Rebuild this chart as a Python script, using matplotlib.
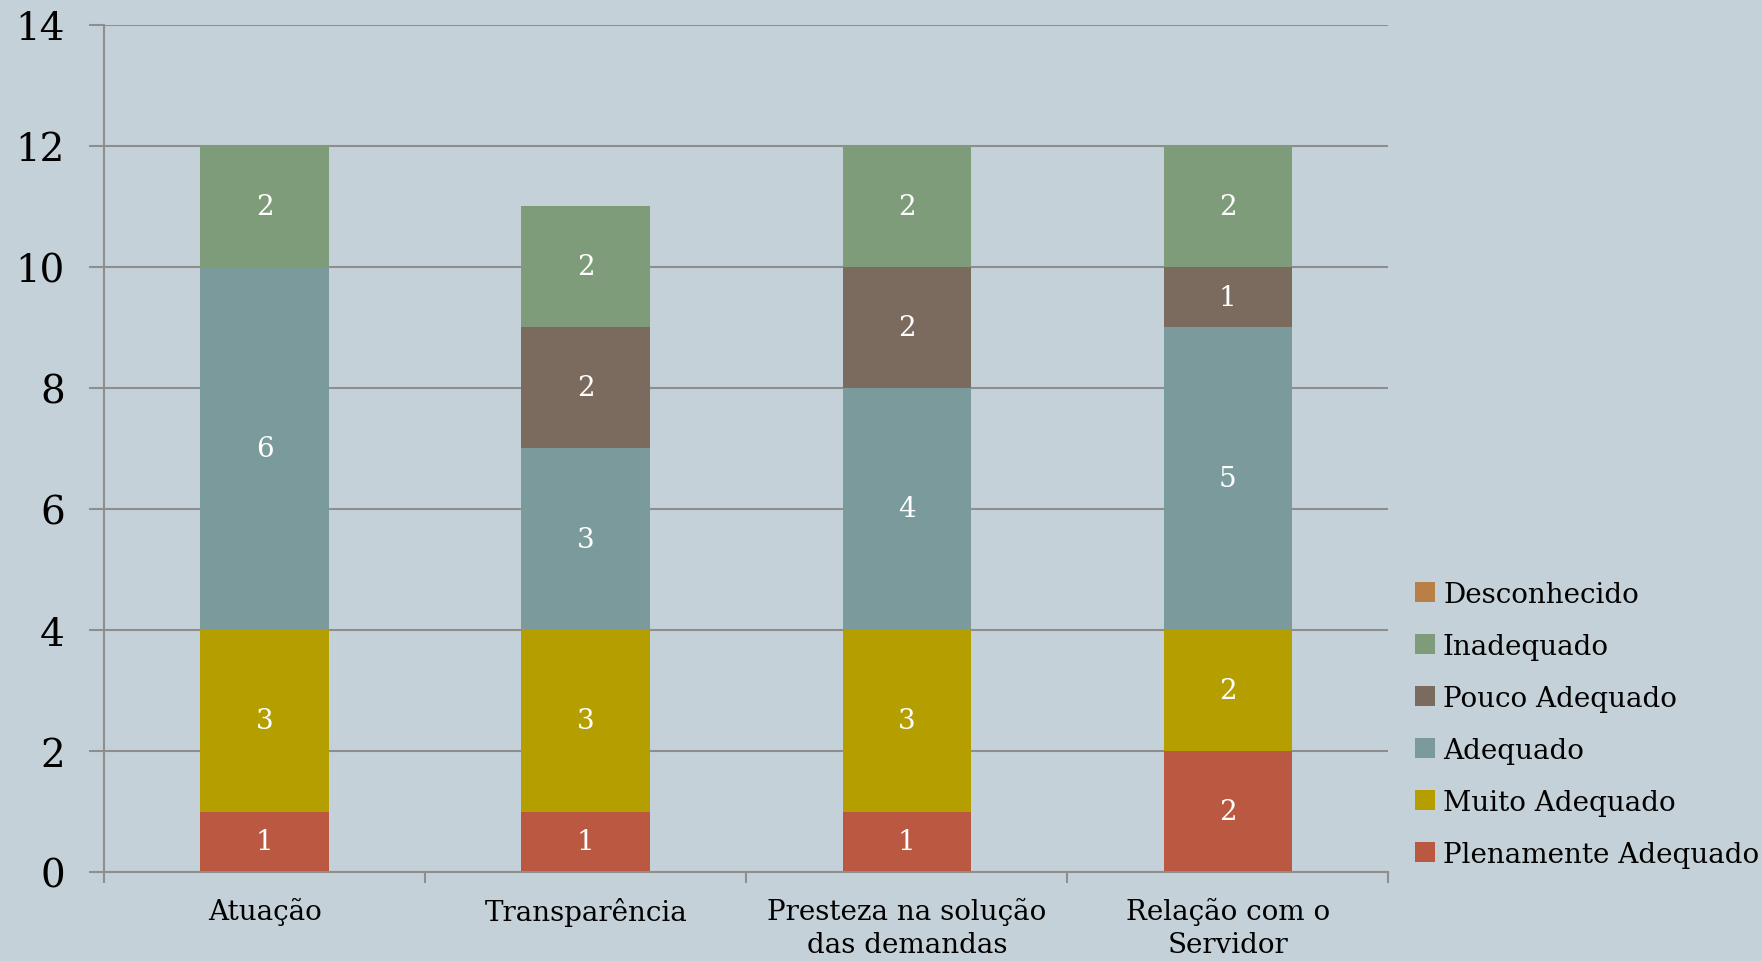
import numpy as np
import matplotlib.pyplot as plt

categories = ["Atuação", "Transparência", "Presteza na solução\ndas demandas", "Relação com o\nServidor"]
series_names = ["Plenamente Adequado", "Muito Adequado", "Adequado", "Pouco Adequado", "Inadequado", "Desconhecido"]
plenamente = [1, 1, 1, 2]
muito = [3, 3, 3, 2]
adequado = [6, 3, 4, 5]
pouco = [0, 2, 2, 1]
inadequado = [2, 2, 2, 2]
desconhecido = [0, 0, 0, 0]
colors = ["#BA5842", "#B59E00", "#7B9A9B", "#7B6A5E", "#7F9C7A", "#BA7F45"]

bg = "#C5D1D8"
grid_c = "#8E8E8E"
plt.rcParams['font.family'] = ['DejaVu Serif']

fig = plt.figure(figsize=(17.62, 9.62), dpi=100, facecolor=bg)
ax = fig.add_axes([0.059, 0.0925, 0.729, 0.8805], facecolor=bg)

x = np.arange(len(categories))
bottom = np.zeros(len(categories))
handles = []
for name, vals, c in zip(series_names, [plenamente, muito, adequado, pouco, inadequado, desconhecido], colors):
    vals = np.array(vals, dtype=float)
    b = ax.bar(x, vals, 0.4, bottom=bottom, color=c, label=name, zorder=3, linewidth=0)
    handles.append(b)
    for xi, v, b0 in zip(x, vals, bottom):
        if v > 0:
            ax.text(xi, b0 + v / 2, "%d" % v, ha="center", va="center", color="white",
                    fontsize=20, zorder=4)
    bottom += vals

ax.set_xlim(-0.5, 3.5)
ax.set_ylim(0, 14)
ax.set_yticks(range(0, 15, 2))
ax.yaxis.grid(True, color=grid_c, linewidth=1.5, zorder=0)
ax.set_axisbelow(True)
for s in ["top", "right"]:
    ax.spines[s].set_visible(False)
for s in ["left", "bottom"]:
    ax.spines[s].set_color(grid_c)
    ax.spines[s].set_linewidth(1.5)
    ax.spines[s].set_zorder(5)

ax.tick_params(axis="y", length=11, width=1.5, color=grid_c, labelsize=28, pad=17)
ax.set_xticks(np.arange(-0.5, 4, 1))
ax.set_xticklabels([])
ax.tick_params(axis="x", which="major", length=8, width=1.5, color=grid_c)
ax.set_xticks(x, minor=True)
ax.set_xticklabels(categories, minor=True, fontsize=20, linespacing=1.3)
ax.tick_params(axis="x", which="minor", length=0, pad=18)

leg = fig.legend(handles[::-1], series_names[::-1], loc="center left",
                 bbox_to_anchor=(0.789, 0.246), frameon=False, fontsize=20,
                 handlelength=0.7, handleheight=0.7, handletextpad=0.3,
                 labelspacing=0.9)

fig.savefig("out.png", dpi=100, facecolor=bg)
